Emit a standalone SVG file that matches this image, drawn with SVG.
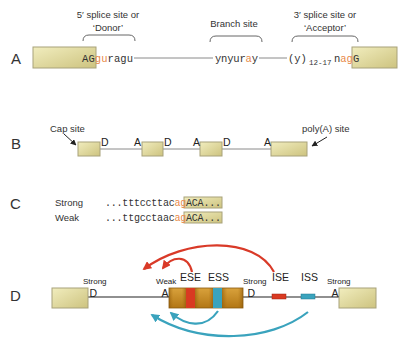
<svg xmlns="http://www.w3.org/2000/svg" width="401" height="340" viewBox="0 0 401 340">
  <defs>
    <linearGradient id="exon" x1="0" y1="0" x2="1" y2="1">
      <stop offset="0" stop-color="#f1edbe"/>
      <stop offset="1" stop-color="#cdc37f"/>
    </linearGradient>
    <linearGradient id="exonOrange" x1="0" y1="0" x2="0" y2="1">
      <stop offset="0" stop-color="#d9a23c"/>
      <stop offset="1" stop-color="#b27614"/>
    </linearGradient>
    <linearGradient id="seg" x1="0" y1="0" x2="1" y2="0">
      <stop offset="0" stop-color="#8a5608" stop-opacity="0.6"/>
      <stop offset="0.25" stop-color="#a86c10" stop-opacity="0"/>
      <stop offset="0.75" stop-color="#a86c10" stop-opacity="0"/>
      <stop offset="1" stop-color="#8a5608" stop-opacity="0.6"/>
    </linearGradient>
    <marker id="ahBlack" viewBox="0 0 10 10" refX="9" refY="5" markerWidth="6" markerHeight="6" orient="auto">
      <path d="M0,0 L10,5 L0,10 z" fill="#222"/>
    </marker>
    <marker id="ahRed" viewBox="0 0 10 10" refX="8" refY="5" markerWidth="4" markerHeight="4" orient="auto">
      <path d="M0,0 L10,5 L0,10 z" fill="#d93a28"/>
    </marker>
    <marker id="ahBlue" viewBox="0 0 10 10" refX="8" refY="5" markerWidth="4" markerHeight="4" orient="auto">
      <path d="M0,0 L10,5 L0,10 z" fill="#3aa3bd"/>
    </marker>
  </defs>
  <style>
    .exon { fill: url(#exon); stroke: #a8a27a; stroke-width: 1; }
    .intron { stroke: #8a8a8a; stroke-width: 1; fill: none; }
    .intronD { stroke: #222; stroke-width: 1.2; fill: none; }
    .panel { font-family: "Liberation Sans", Arial, sans-serif; font-size: 15px; fill: #333; }
    .lbl { font-family: "Liberation Sans", Arial, sans-serif; font-size: 9.5px; fill: #333; }
    .small { font-family: "Liberation Sans", Arial, sans-serif; font-size: 8px; fill: #222; }
    .site { font-family: "Liberation Sans", Arial, sans-serif; font-size: 10.5px; fill: #222; }
    .seq { font-family: "Liberation Mono", "Courier New", monospace; font-size: 10.5px; fill: #333; }
    .seqC { font-family: "Liberation Mono", "Courier New", monospace; font-size: 10px; fill: #333; }
    .hl { fill: #e8894a; }
    .brace { stroke: #666; stroke-width: 1; fill: none; }
    .arRed { stroke: #d93a28; stroke-width: 2.2; fill: none; marker-end: url(#ahRed); }
    .arBlue { stroke: #3aa3bd; stroke-width: 2.2; fill: none; marker-end: url(#ahBlue); }
  </style>

  <!-- Panel A: consensus splice signals -->
  <g id="panelA">
    <text class="panel" x="11" y="64">A</text>
    <g id="a-exon1"><rect class="exon" x="33" y="47" width="63" height="21"/></g>
    <g id="a-exon2"><rect class="exon" x="352" y="47" width="45" height="21"/></g>
    <g id="a-donor">
      <text class="lbl" x="108" y="18" text-anchor="middle">5′ splice site  or</text>
      <text class="lbl" x="108" y="31" text-anchor="middle">‘Donor’</text>
      <path class="brace" d="M83,41 Q83,35 89,35 L129,35 Q135,35 135,41"/>
      <text class="seq" x="82" y="62" textLength="51" lengthAdjust="spacing">AG<tspan class="hl">gu</tspan>ragu</text>
    </g>
    <g id="a-branch">
      <text class="lbl" x="234" y="27" text-anchor="middle">Branch site</text>
      <path class="brace" d="M210,42 Q210,36 216,36 L256,36 Q262,36 262,42"/>
      <text class="seq" x="215" y="62" textLength="43" lengthAdjust="spacing">ynyur<tspan class="hl">a</tspan>y</text>
    </g>
    <g id="a-acceptor">
      <text class="lbl" x="325" y="18" text-anchor="middle">3′ splice site  or</text>
      <text class="lbl" x="325" y="31" text-anchor="middle">‘Acceptor’</text>
      <path class="brace" d="M292,42 Q292,36 298,36 L352,36 Q358,36 358,42"/>
      <text class="seq" x="288" y="62">(y)<tspan x="309" font-size="7.5" dy="3">12-17</tspan><tspan x="334" dy="-3">n</tspan><tspan class="hl">ag</tspan>G</text>
    </g>
    <g id="a-connectors">
      <line class="intron" x1="134" y1="58" x2="213" y2="58"/>
      <line class="intron" x1="259" y1="58" x2="287" y2="58"/>
    </g>
  </g>

  <!-- Panel B: gene with exons, donor and acceptor sites -->
  <g id="panelB">
    <text class="panel" x="11" y="149">B</text>
    <g id="b-connectors">
      <line class="intron" x1="100" y1="149" x2="271" y2="149"/>
      <line x1="64" y1="134" x2="76" y2="145" stroke="#222" stroke-width="1" marker-end="url(#ahBlack)"/>
      <line x1="327" y1="137" x2="312" y2="146" stroke="#222" stroke-width="1" marker-end="url(#ahBlack)"/>
    </g>
    <g id="b-exon1"><rect class="exon" x="78" y="142" width="22" height="14"/></g>
    <g id="b-exon2"><rect class="exon" x="142" y="142" width="21" height="14"/></g>
    <g id="b-exon3"><rect class="exon" x="200" y="142" width="22" height="14"/></g>
    <g id="b-exon4"><rect class="exon" x="271" y="142" width="36" height="14"/></g>
    <text class="site" x="101" y="146">D</text>
    <text class="site" x="134" y="146">A</text>
    <text class="site" x="164" y="146">D</text>
    <text class="site" x="193" y="146">A</text>
    <text class="site" x="223" y="146">D</text>
    <text class="site" x="264" y="146">A</text>
    <text class="lbl" x="50" y="132">Cap site</text>
    <text class="lbl" x="302" y="132">poly(A) site</text>
  </g>

  <!-- Panel C: strong and weak acceptor sequences -->
  <g id="panelC">
    <text class="panel" x="10" y="209">C</text>
    <text class="lbl" x="55" y="206">Strong</text>
    <text class="lbl" x="55" y="221">Weak</text>
    <g id="c-strong">
      <rect class="exon" x="184" y="197" width="38" height="11"/>
      <text class="seqC" x="105" y="206" textLength="116" lengthAdjust="spacing">...tttccttac<tspan class="hl">ag</tspan>ACA...</text>
    </g>
    <g id="c-weak">
      <rect class="exon" x="184" y="212" width="38" height="11"/>
      <text class="seqC" x="105" y="221" textLength="116" lengthAdjust="spacing">...ttgcctaac<tspan class="hl">ag</tspan>ACA...</text>
    </g>
  </g>

  <!-- Panel D: enhancers and silencers -->
  <g id="panelD">
    <text class="panel" x="10" y="301">D</text>
    <g id="d-connectors">
      <line class="intronD" x1="88" y1="297" x2="169" y2="297"/>
      <line class="intronD" x1="243" y1="297" x2="339" y2="297"/>
      <path class="arRed" d="M274,272 C255,236 185,238 144,269"/>
      <path class="arRed" d="M192,272 C188,254 172,256 163,268"/>
      <path class="arBlue" d="M218,311 C205,330 185,325 171,313"/>
      <path class="arBlue" d="M308,312 C270,342 200,345 152,315"/>
    </g>
    <g id="d-exon1"><rect class="exon" x="52" y="288" width="36" height="20"/></g>
    <g id="d-exon3"><rect class="exon" x="339" y="288" width="37" height="20"/></g>
    <g id="d-exon2">
      <rect x="169" y="288" width="74" height="20" fill="url(#exonOrange)" stroke="#8a5a10" stroke-width="0.8"/>
      <rect x="169" y="288" width="17" height="20" fill="url(#seg)"/>
      <rect x="195" y="288" width="18" height="20" fill="url(#seg)"/>
      <rect x="222" y="288" width="21" height="20" fill="url(#seg)"/>
      <rect x="186" y="288" width="9" height="20" fill="#d93a22"/>
      <rect x="213" y="288" width="9" height="20" fill="#3aa3bd"/>
    </g>
    <g id="d-ise"><rect x="272" y="294" width="14" height="5" fill="#d93a22" stroke="#a02010" stroke-width="0.5"/></g>
    <g id="d-iss"><rect x="301" y="294" width="14" height="5" fill="#3aa3bd" stroke="#207890" stroke-width="0.5"/></g>
    <text class="small" x="83" y="284">Strong</text>
    <text class="site" x="89.5" y="297">D</text>
    <text class="small" x="156" y="284">Weak</text>
    <text class="site" x="161.5" y="297">A</text>
    <text class="site" x="180" y="281">ESE</text>
    <text class="site" x="208" y="281">ESS</text>
    <text class="small" x="243" y="284">Strong</text>
    <text class="site" x="247.5" y="297">D</text>
    <text class="site" x="272" y="281">ISE</text>
    <text class="site" x="301" y="281">ISS</text>
    <text class="small" x="327" y="284">Strong</text>
    <text class="site" x="331.5" y="297">A</text>
  </g>
</svg>
